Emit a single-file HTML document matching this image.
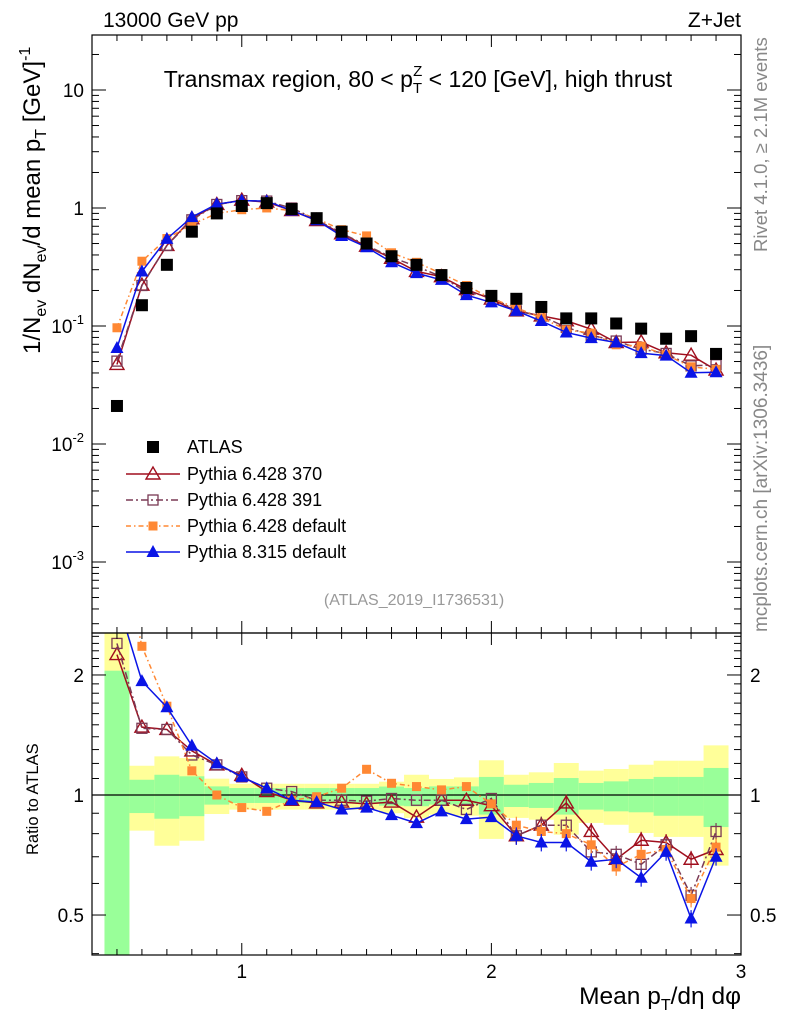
<!DOCTYPE html>
<html><head><meta charset="utf-8"><style>
body{margin:0;background:#fff}
svg{display:block;font-family:"Liberation Sans",sans-serif}
</style></head><body>
<svg id="c" width="786" height="1024" xmlns="http://www.w3.org/2000/svg">
<text x="103" y="27" font-size="21">13000 GeV pp</text>
<text x="741" y="27" font-size="21" text-anchor="end">Z+Jet</text>
<text x="418" y="87" font-size="23" text-anchor="middle">Transmax region, 80 &lt; p<tspan font-size="15" dy="6">T</tspan><tspan font-size="15" dx="-9" dy="-17">Z</tspan><tspan dy="11"> &lt; 120 [GeV], high thrust</tspan></text>
<text transform="translate(767,252) rotate(-90)" font-size="18.5" fill="#888">Rivet 4.1.0, ≥ 2.1M events</text>
<text transform="translate(767,632) rotate(-90)" font-size="19" fill="#888">mcplots.cern.ch [arXiv:1306.3436]</text>
<text x="414" y="605" font-size="16" fill="#999" text-anchor="middle">(ATLAS_2019_I1736531)</text>
<text transform="translate(40,354) rotate(-90)" font-size="24">1/N<tspan font-size="16" dy="6">ev</tspan><tspan dy="-6"> dN</tspan><tspan font-size="16" dy="6">ev</tspan><tspan dy="-6">/d mean p</tspan><tspan font-size="16" dy="6">T</tspan><tspan dy="-6">  [GeV]</tspan><tspan font-size="16" dy="-10">-1</tspan></text>
<text transform="translate(38,855) rotate(-90)" font-size="16.5">Ratio to ATLAS</text>
<text x="741" y="1004" font-size="24.5" text-anchor="end">Mean p<tspan font-size="16" dy="6">T</tspan><tspan dy="-6">/dη dφ</tspan></text>
<g id="g"></g>
</svg>
<script>
const xs=[0.5,0.6,0.7,0.8,0.9,1.0,1.1,1.2,1.3,1.4,1.5,1.6,1.7,1.8,1.9,2.0,2.1,2.2,2.3,2.4,2.5,2.6,2.7,2.8,2.9];
const atlas=[0.021,0.15,0.33,0.63,0.9,1.04,1.1,0.98,0.82,0.63,0.5,0.39,0.33,0.27,0.21,0.18,0.17,0.145,0.116,0.116,0.105,0.095,0.078,0.082,0.058];
const r370=[2.25,1.48,1.46,1.29,1.19,1.12,1.02,0.97,0.955,0.96,0.95,0.96,0.88,0.97,0.97,0.94,0.79,0.84,0.955,0.81,0.69,0.77,0.76,0.69,0.73];
const r391=[2.4,1.47,1.46,1.26,1.19,1.11,1.04,1.02,0.97,0.97,0.965,0.98,0.97,0.97,0.92,0.98,0.79,0.84,0.84,0.72,0.71,0.67,0.75,0.56,0.81];
const rdef=[4.6,2.36,1.67,1.15,1.0,0.93,0.91,0.97,0.99,1.04,1.16,1.07,1.05,1.03,1.05,0.95,0.84,0.81,0.8,0.75,0.66,0.71,0.73,0.55,0.74];
const r8=[3.1,1.93,1.66,1.33,1.2,1.11,1.04,0.97,0.96,0.92,0.93,0.89,0.85,0.91,0.87,0.88,0.79,0.76,0.76,0.68,0.69,0.62,0.72,0.49,0.70];
const yelHi=[3,1.184,1.25,1.238,1.099,1.067,1.067,1.067,1.067,1.067,1.067,1.08,1.124,1.097,1.107,1.222,1.124,1.14,1.203,1.151,1.162,1.191,1.219,1.219,1.332];
const yelLo=[0.3,0.814,0.746,0.768,0.896,0.919,0.919,0.919,0.919,0.919,0.919,0.9,0.876,0.893,0.887,0.776,0.876,0.867,0.795,0.851,0.842,0.803,0.785,0.785,0.665];
const grnHi=[2.05,1.092,1.124,1.114,1.051,1.041,1.041,1.041,1.041,1.041,1.041,1.05,1.041,1.051,1.051,1.11,1.061,1.072,1.103,1.072,1.082,1.097,1.11,1.11,1.169];
const grnLo=[0.3,0.901,0.872,0.885,0.946,0.955,0.955,0.955,0.955,0.955,0.955,0.94,0.937,0.946,0.946,0.893,0.933,0.928,0.893,0.919,0.91,0.905,0.887,0.887,0.831];
const mainTicks=[[10,"10"],[1,"1"],[0.1,"10<-1>"],[0.01,"10<-2>"],[0.001,"10<-3>"]];
const ratioTicks=[[2,"2"],[1,"1"],[0.5,"0.5"]];
const xTicks=[1,2,3];

const NS="http://www.w3.org/2000/svg",G=document.getElementById('g');
const L=92,R=741,MT=35,MB=633,RB=955;
const X=v=>L+(v-0.4)/(2.6)*(R-L);
const YM=v=>208-Math.log10(v)*118;
const YR=v=>795-Math.log10(v)*398.7;
function el(t,a,p){const e=document.createElementNS(NS,t);for(const k in a)e.setAttribute(k,a[k]);(p||G).appendChild(e);return e;}
const defs=el('defs',{});
const c1=el('clipPath',{id:'cm'},defs);el('rect',{x:L,y:MT,width:R-L,height:MB-MT},c1);
const c2=el('clipPath',{id:'cr'},defs);el('rect',{x:L,y:MB,width:R-L,height:RB-MB},c2);
const gm=el('g',{'clip-path':'url(#cm)'});


const gr=el('g',{'clip-path':'url(#cr)'});


xs.forEach((x,i)=>{
 const a=X(x-0.05),b=X(x+0.05);
 const y=el('rect',{x:a,y:YR(yelHi[i]),width:b-a,height:YR(yelLo[i])-YR(yelHi[i]),fill:'#ffff99'},gr);
 
 
 const g=el('rect',{x:a,y:YR(grnHi[i]),width:b-a,height:YR(grnLo[i])-YR(grnHi[i]),fill:'#99ff99'},gr);
 
 
});
el('line',{x1:L,x2:R,y1:YR(1),y2:YR(1),stroke:'#000','stroke-width':1.3},gr);
function marker(p,type,x,y,col){
 let m;
 if(type==='sq') m=el('rect',{x:x-6,y:y-6,width:12,height:12,fill:'#000'},p);
 else if(type==='osq') m=el('rect',{x:x-5,y:y-5,width:10,height:10,fill:'none',stroke:col,'stroke-width':1.3},p);
 else if(type==='fsq') m=el('rect',{x:x-4.5,y:y-4.5,width:9,height:9,fill:col},p);
 else if(type==='otri') m=el('polygon',{points:`${x},${y-7} ${x-7},${y+5} ${x+7},${y+5}`,fill:'none',stroke:col,'stroke-width':1.4},p);
 else m=el('polygon',{points:`${x},${y-7} ${x-6.5},${y+5} ${x+6.5},${y+5}`,fill:col},p);
 return m;
}
const series=[
 {r:r370,col:'#a00f1e',m:'otri',dash:'',name:'Pythia 6.428 370'},
 {r:r391,col:'#7a3a55',m:'osq',dash:'7,3,2,3',name:'Pythia 6.428 391'},
 {r:rdef,col:'#ff8833',m:'fsq',dash:'5,3,1.5,3',name:'Pythia 6.428 default'},
 {r:r8,col:'#0a14e6',m:'ftri',dash:'',name:'Pythia 8.315 default'}];
series.forEach((s,si)=>{
 const pm=xs.map((x,i)=>X(x)+','+YM(atlas[i]*s.r[i])).join(' ');
 const l1=el('polyline',{points:pm,fill:'none',stroke:s.col,'stroke-width':1.5,'stroke-dasharray':s.dash},gm);
 
 
 const pr=xs.map((x,i)=>X(x)+','+YR(s.r[i])).join(' ');
 const l2=el('polyline',{points:pr,fill:'none',stroke:s.col,'stroke-width':1.5,'stroke-dasharray':s.dash},gr);
 
 
 xs.forEach((x,i)=>{
  const m1=marker(gm,s.m,X(x),YM(atlas[i]*s.r[i]),s.col);
  
  
  if(x>=2.05){el('line',{x1:X(x),x2:X(x),y1:YR(s.r[i]*1.05),y2:YR(s.r[i]*0.95),stroke:s.col,'stroke-width':1.2},gr);}
  const m2=marker(gr,s.m,X(x),YR(s.r[i]),s.col);
  
  
 });
});
xs.forEach((x,i)=>{const m=marker(gm,'sq',X(x),YM(atlas[i]));
 
 });
el('rect',{x:L,y:MT,width:R-L,height:MB-MT,fill:'none',stroke:'#000','stroke-width':1.2});
el('rect',{x:L,y:MB,width:R-L,height:RB-MB,fill:'none',stroke:'#000','stroke-width':1.2});
for(let k=5;k<=29;k++){const v=k/10,xx=X(v),maj=(k%10===0),len=maj?12:6;
 [[MT,1],[MB,-1],[MB,1],[RB,-1]].forEach(([y0,d])=>el('line',{x1:xx,x2:xx,y1:y0,y2:y0+d*len,stroke:'#000'}));}
xTicks.forEach(v=>{const t=el('text',{x:X(v),y:978,'font-size':19,'text-anchor':'middle'});t.textContent=v;
 });
for(let e=-4;e<=1;e++)for(let m=1;m<10;m++){const v=m*Math.pow(10,e),y=YM(v);if(y<MT||y>MB)continue;const len=m===1?14:7;
 el('line',{x1:L,x2:L+len,y1:y,y2:y,stroke:'#000'});el('line',{x1:R,x2:R-len,y1:y,y2:y,stroke:'#000'});}
mainTicks.forEach(([v,s])=>{const t=el('text',{x:84,y:YM(v)+7,'font-size':19,'text-anchor':'end'});
 const m=s.match(/^(\d+)<(.+)>$/);
 if(m){t.textContent=m[1];const ts=el('tspan',{'font-size':13,dy:-9},t);ts.textContent=m[2];}else t.textContent=s;
 });
for(let k=4;k<=25;k++){const v=k/10,y=YR(v);if(y<MB||y>RB)continue;const maj=(v===0.5||v===1||v===2);const len=maj?14:7;
 el('line',{x1:L,x2:L+len,y1:y,y2:y,stroke:'#000'});el('line',{x1:R,x2:R-len,y1:y,y2:y,stroke:'#000'});}
ratioTicks.forEach(([v,s])=>{const t=el('text',{x:84,y:YR(v)+7,'font-size':19,'text-anchor':'end'});t.textContent=s;
 
 const t2=el('text',{x:750,y:YR(v)+7,'font-size':19});t2.textContent=s;
 });
const lg=el('g',{});


const ly=[447,474,500,526,552];
const e0=el('g',{},lg);
marker(e0,'sq',153,ly[0]);const t0=el('text',{x:187,y:ly[0]+6,'font-size':18},e0);t0.textContent='ATLAS';
series.forEach((s,i)=>{const g=el('g',{},lg);
 
 
 const y=ly[i+1];el('line',{x1:126,x2:180,y1:y,y2:y,stroke:s.col,'stroke-width':1.5,'stroke-dasharray':s.dash},g);
 marker(g,s.m,153,y,s.col);const t=el('text',{x:187,y:y+6,'font-size':18},g);t.textContent=s.name;});
</script>
</body></html>
